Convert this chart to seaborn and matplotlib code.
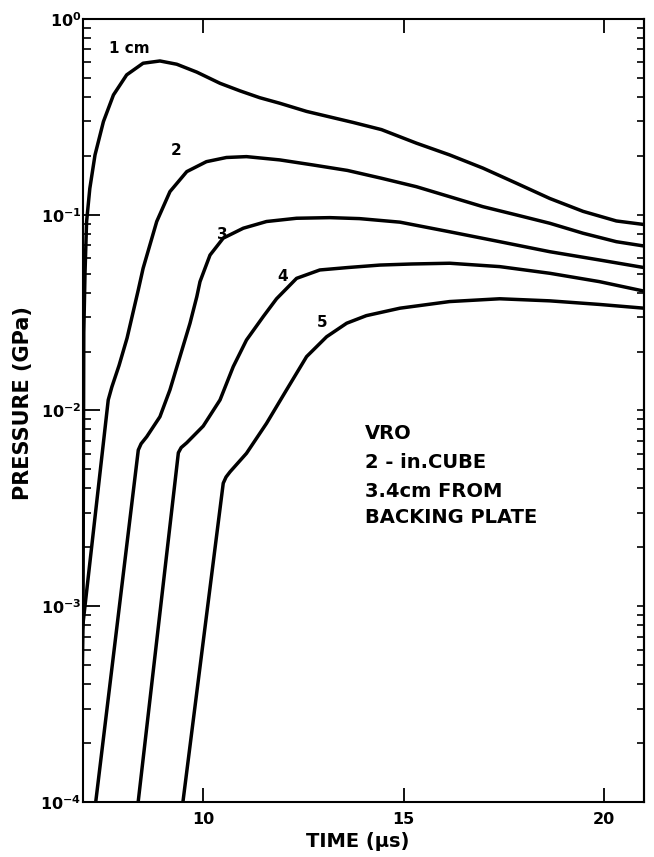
import numpy as np
import pandas as pd
import matplotlib
matplotlib.use("Agg")
import matplotlib.pyplot as plt
import seaborn as sns
from matplotlib.ticker import LogLocator, FuncFormatter, NullFormatter, NullLocator, FixedLocator

# ---------------- data (time in microseconds, pressure in GPa) ----------------
t_1cm = [6.96, 7.00, 7.01, 7.02, 7.05, 7.09, 7.17, 7.30, 7.51, 7.76, 8.09, 8.50, 8.92,
         9.34, 9.84, 10.42, 10.92, 11.41, 11.91, 12.58, 13.24, 13.74, 14.45, 15.32,
         16.15, 16.98, 17.81, 18.65, 19.48, 20.31, 21.0]
p_1cm = [2.51e-4, 7.94e-4, 5.01e-3, 0.0251, 0.0501, 0.0923, 0.136, 0.202, 0.299, 0.409,
         0.518, 0.594, 0.610, 0.587, 0.535, 0.469, 0.429, 0.396, 0.371, 0.337, 0.313,
         0.296, 0.272, 0.232, 0.202, 0.173, 0.145, 0.121, 0.104, 0.0929, 0.0891]

t_2cm = [6.95, 7.63, 7.72, 7.90, 8.10, 8.38, 8.50, 8.84, 9.17, 9.59, 10.08, 10.58, 11.08,
         11.91, 12.74, 13.60, 14.45, 15.32, 16.15, 16.98, 17.81, 18.65, 19.48, 20.31, 21.0]
p_2cm = [6.61e-4, 0.01132, 0.01318, 0.01698, 0.02344, 0.0413, 0.0532, 0.0923, 0.1312,
         0.166, 0.1866, 0.196, 0.198, 0.1905, 0.1795, 0.1683, 0.1535, 0.139, 0.1236,
         0.1099, 0.0998, 0.0904, 0.0804, 0.0728, 0.0692]

t_3cm = [7.30, 8.38, 8.45, 8.59, 8.92, 9.17, 9.42, 9.67, 9.84, 9.92, 10.17, 10.50, 11.00,
         11.58, 12.33, 13.16, 13.90, 14.91, 16.15, 17.40, 18.65, 19.89, 21.0]
p_3cm = [9.33e-5, 6.28e-3, 6.76e-3, 7.34e-3, 9.29e-3, 0.01274, 0.01884, 0.02786, 0.0381,
         0.0455, 0.0622, 0.0759, 0.0853, 0.0923, 0.0959, 0.0966, 0.0955, 0.0916, 0.0818,
         0.0728, 0.0647, 0.0587, 0.0537]

t_4cm = [8.36, 9.38, 9.45, 9.59, 10.00, 10.42, 10.75, 11.08, 11.50, 11.83, 12.33, 12.91,
         13.60, 14.41, 15.20, 16.15, 17.40, 18.65, 19.89, 21.0]
p_4cm = [9.33e-5, 6.08e-3, 6.46e-3, 6.84e-3, 8.32e-3, 0.01132, 0.01675, 0.0229, 0.0302,
         0.0372, 0.0473, 0.0522, 0.0537, 0.0553, 0.0560, 0.0565, 0.0543, 0.0502, 0.0455,
         0.0407]

t_5cm = [9.48, 10.50, 10.57, 10.67, 11.08, 11.58, 12.08, 12.58, 13.08, 13.58, 14.07, 14.91,
         16.15, 17.40, 18.65, 19.89, 21.0]
p_5cm = [9.5e-5, 4.25e-3, 4.57e-3, 4.86e-3, 6.04e-3, 8.59e-3, 0.01274, 0.01884, 0.0238,
         0.0279, 0.0305, 0.0333, 0.0360, 0.0372, 0.0363, 0.0348, 0.0333]

curve_names = ["1 cm", "2", "3", "4", "5"]
label_t = [8.15, 9.32, 10.47, 11.99, 12.96]
label_p = [0.703, 0.214, 0.0789, 0.0481, 0.028]

x_ticks = [10, 15, 20]
note_lines = ["VRO", "2 - in.CUBE", "3.4cm FROM", "BACKING PLATE"]

# ---------------- build table ----------------
series = [(t_1cm, p_1cm), (t_2cm, p_2cm), (t_3cm, p_3cm), (t_4cm, p_4cm), (t_5cm, p_5cm)]
frames = []
for name, (t, p) in zip(curve_names, series):
    frames.append(pd.DataFrame({"time": t, "pressure": p, "curve": name}))
df = pd.concat(frames, ignore_index=True)

# ---------------- style ----------------
sns.set_style("ticks")
plt.rcParams["font.family"] = ["DejaVu Sans"]
plt.rcParams["font.weight"] = "bold"
plt.rcParams["axes.linewidth"] = 1.5
for key in ["text.color", "axes.labelcolor", "xtick.color", "ytick.color",
            "axes.edgecolor", "xtick.labelcolor", "ytick.labelcolor"]:
    plt.rcParams[key] = "black"

fig = plt.figure(figsize=(6.54, 8.57), dpi=100)
ax = fig.add_axes([0.1269, 0.0642, 0.8578, 0.9137])

sns.lineplot(data=df, x="time", y="pressure", units="curve", estimator=None,
             sort=False, color="black", linewidth=2.5, ax=ax, legend=False)

ax.set_yscale("log")
ax.set_xlim(7, 21)
ax.set_ylim(1e-4, 1)

# x ticks
ax.xaxis.set_major_locator(FixedLocator(x_ticks))
ax.xaxis.set_minor_locator(NullLocator())
ax.tick_params(axis="x", which="major", direction="in", length=10, width=1.3,
               top=True, bottom=True, labelsize=11.5, pad=7, colors="black")

# y ticks
ax.yaxis.set_major_locator(LogLocator(base=10, numticks=10))
ax.yaxis.set_minor_locator(LogLocator(base=10, subs=np.arange(2, 10), numticks=20))
ax.yaxis.set_major_formatter(FuncFormatter(lambda v, p: r"$\mathbf{10^{%d}}$" % int(round(np.log10(v)))))
ax.yaxis.set_minor_formatter(NullFormatter())
ax.tick_params(axis="y", which="major", direction="in", length=12, width=1.3,
               left=True, right=False, labelsize=11.5, pad=1, colors="black")
ax.tick_params(axis="y", which="minor", direction="in", length=6, width=1.2,
               left=True, right=False, colors="black")

sec = ax.secondary_yaxis("right")
sec.yaxis.set_major_locator(LogLocator(base=10, numticks=10))
sec.yaxis.set_minor_locator(LogLocator(base=10, subs=np.arange(2, 10), numticks=20))
sec.tick_params(axis="y", which="both", direction="in", length=5, width=1.2,
                labelright=False, colors="black")
sec.spines["right"].set_linewidth(1.5)
sec.spines["right"].set_color("black")

for s in ax.spines.values():
    s.set_linewidth(1.5)
    s.set_color("black")
    s.set_visible(True)

# labels
ax.set_xlabel("TIME (μs)", fontsize=14, fontweight="bold", color="black")
ax.xaxis.set_label_coords(0.49, -0.038)
ax.set_ylabel("PRESSURE (GPa)", fontsize=15, fontweight="bold", color="black")
ax.yaxis.set_label_coords(-0.089, 0.51)

for name, lt, lp in zip(curve_names, label_t, label_p):
    ax.text(lt, lp, name, ha="center", va="center", fontsize=11, fontweight="bold",
            color="black")

note_y = [0.470, 0.434, 0.397, 0.363]
for line, yy in zip(note_lines, note_y):
    ax.text(0.503, yy, line, transform=ax.transAxes, ha="left", va="center",
            fontsize=14, fontweight="bold", color="black")

fig.savefig("out.png", dpi=100)
